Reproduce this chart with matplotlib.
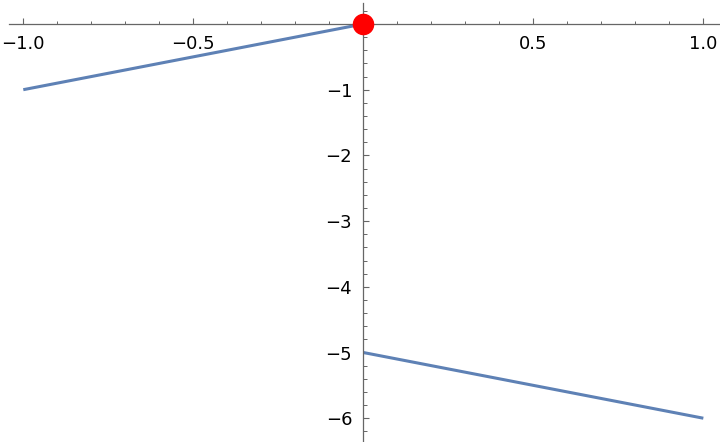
import numpy as np
import matplotlib.pyplot as plt
from matplotlib.ticker import MultipleLocator, FuncFormatter

# piecewise segments
seg1_x = [-1.0, 0.0]
seg1_y = [-1.0, 0.0]
seg2_x = [0.0, 1.0]
seg2_y = [-5.0, -6.0]
point_x = [0.0]
point_y = [0.0]

line_color = "#5E81B5"
axis_color = "#666666"

fig = plt.figure(figsize=(7.2, 4.42), dpi=100)
ax = fig.add_axes([0, 0, 1, 1])

ax.plot(seg1_x, seg1_y, color=line_color, lw=2.2, solid_capstyle="butt")
ax.plot(seg2_x, seg2_y, color=line_color, lw=2.2, solid_capstyle="butt")
ax.plot(point_x, point_y, "o", color="red", ms=14.5, zorder=5, clip_on=False)

ax.set_xlim(-1.0685, 1.049)
ax.set_ylim(-6.362, 0.365)

for s in ["top", "right"]:
    ax.spines[s].set_visible(False)
ax.spines["left"].set_position(("data", 0))
ax.spines["bottom"].set_position(("data", 0))
ax.spines["left"].set_bounds(-6.362, 0.315)
ax.spines["bottom"].set_bounds(-1.041, 1.049)
for s in ["left", "bottom"]:
    ax.spines[s].set_color(axis_color)
    ax.spines[s].set_linewidth(0.9)

ax.xaxis.set_major_locator(MultipleLocator(0.5))
ax.xaxis.set_minor_locator(MultipleLocator(0.1))
ax.yaxis.set_major_locator(MultipleLocator(1))
ax.yaxis.set_minor_locator(MultipleLocator(0.2))

def xfmt(v, pos):
    if abs(v) < 1e-9:
        return ""
    return f"{v:.1f}".replace("-", "\u2212")

def yfmt(v, pos):
    if abs(v) < 1e-9:
        return ""
    return f"{v:.0f}".replace("-", "\u2212")

ax.xaxis.set_major_formatter(FuncFormatter(xfmt))
ax.yaxis.set_major_formatter(FuncFormatter(yfmt))

ax.tick_params(axis="x", which="major", direction="in", length=4, width=0.8,
               color=axis_color, labelsize=13, pad=8)
ax.tick_params(axis="x", which="minor", direction="in", length=2.5, width=0.7,
               color=axis_color)
ax.tick_params(axis="y", which="major", direction="in", length=4.5, width=0.8,
               color=axis_color, labelsize=13, pad=8)
ax.tick_params(axis="y", which="minor", direction="in", length=3, width=0.7,
               color=axis_color)

ax.patch.set_visible(False)
fig.savefig("out.png", dpi=100)
